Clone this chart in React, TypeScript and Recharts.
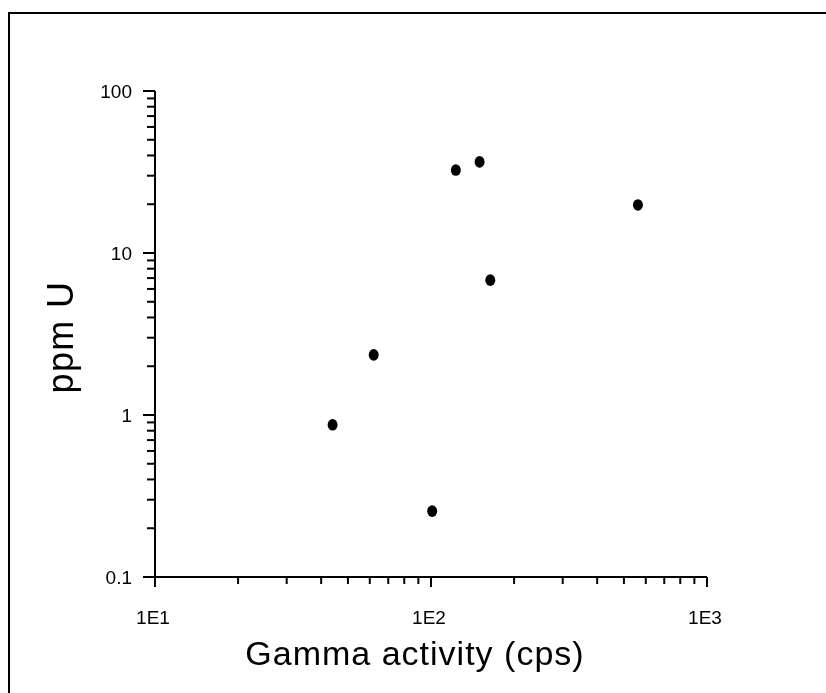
import React from "react";
import { ScatterChart, Scatter, XAxis, YAxis } from "recharts";

const gammaCps = [44, 62, 101, 123, 150, 164, 562];
const ppmU = [0.87, 2.35, 0.255, 32.5, 36.5, 6.8, 19.8];

const xTicks = [10, 20, 30, 40, 50, 60, 70, 80, 90, 100, 200, 300, 400, 500, 600, 700, 800, 900, 1000];
const yTicks = [0.1, 0.2, 0.3, 0.4, 0.5, 0.6, 0.7, 0.8, 0.9, 1, 2, 3, 4, 5, 6, 7, 8, 9, 10, 20, 30, 40, 50, 60, 70, 80, 90, 100];
const xLabels: Record<number, string> = { 10: "1E1", 100: "1E2", 1000: "1E3" };
const yLabels: Record<number, string> = { 0.1: "0.1", 1: "1", 10: "10", 100: "100" };

const data = gammaCps.map((x, i) => ({ x, y: ppmU[i] }));

const FONT = '"Liberation Sans", Arial, sans-serif';
const INK = "#000";

const isMajor = (v: number) => Math.abs(Math.log10(v) - Math.round(Math.log10(v))) < 1e-6;

const XTick = (props: any) => {
  const { x, y, payload } = props;
  const v = payload.value;
  const major = isMajor(v);
  return (
    <g>
      <line x1={x} y1={y} x2={x} y2={y + (major ? 10 : 7)} stroke={INK} strokeWidth={2} />
      {major && (
        <text x={x - 2} y={y + 47} textAnchor="middle" fontSize={19} fontFamily={FONT} fill={INK}>
          {xLabels[v]}
        </text>
      )}
    </g>
  );
};

const YTick = (props: any) => {
  const { x, y, payload } = props;
  const v = payload.value;
  const major = isMajor(v);
  return (
    <g>
      <line x1={x - (major ? 12 : 8)} y1={y} x2={x} y2={y} stroke={INK} strokeWidth={2} />
      {major && (
        <text x={x - 23} y={y + 7} textAnchor="end" fontSize={19} fontFamily={FONT} fill={INK}>
          {yLabels[v]}
        </text>
      )}
    </g>
  );
};

const XTitle = (props: any) => {
  const vb = props.viewBox || {};
  const cx = vb.x + vb.width / 2 - 16;
  const by = vb.y + 88;
  return (
    <text x={cx} y={by} textAnchor="middle" fontSize={34} letterSpacing={1} fontFamily={FONT} fill={INK}>
      Gamma activity (cps)
    </text>
  );
};

const YTitle = (props: any) => {
  const vb = props.viewBox || {};
  const bx = vb.x + 65;
  const cy = vb.y + vb.height / 2 + 3;
  return (
    <text
      x={bx}
      y={cy}
      textAnchor="middle"
      fontSize={36}
      letterSpacing={1.4}
      fontFamily={FONT}
      fill={INK}
      transform={`rotate(-90, ${bx}, ${cy})`}
    >
      ppm U
    </text>
  );
};

const Dot = (props: any) => {
  const { cx, cy } = props;
  return <ellipse cx={cx} cy={cy} rx={5} ry={5.8} fill={INK} />;
};

export default function App() {
  return (
    <div style={{ position: "relative", width: 810, height: 677 }}>
      <div
        style={{
          position: "fixed",
          left: 8,
          top: 12,
          width: 818,
          height: 681,
          borderTop: "2px solid #000",
          borderLeft: "2px solid #000",
          boxSizing: "border-box",
          pointerEvents: "none",
        }}
      />
      <ScatterChart width={810} height={677} margin={{ top: 83, right: 111, left: 0, bottom: 8 }}>
        <XAxis
          dataKey="x"
          type="number"
          scale="log"
          domain={[10, 1000]}
          allowDataOverflow
          ticks={xTicks}
          interval={0}
          tick={<XTick />}
          tickLine={false}
          tickSize={0}
          tickMargin={0}
          height={100}
          axisLine={{ stroke: INK, strokeWidth: 2 }}
          label={<XTitle />}
        />
        <XAxis
          xAxisId="top"
          orientation="top"
          type="number"
          scale="log"
          domain={[10, 1000]}
          height={0}
          tick={false}
          tickLine={false}
          axisLine={{ stroke: INK, strokeWidth: 2 }}
        />
        <YAxis
          dataKey="y"
          type="number"
          scale="log"
          domain={[0.1, 100]}
          allowDataOverflow
          ticks={yTicks}
          interval={0}
          tick={<YTick />}
          tickLine={false}
          tickSize={0}
          tickMargin={0}
          width={147}
          axisLine={{ stroke: INK, strokeWidth: 2 }}
          label={<YTitle />}
        />
        <YAxis
          yAxisId="right"
          orientation="right"
          type="number"
          scale="log"
          domain={[0.1, 100]}
          width={0}
          tick={false}
          tickLine={false}
          axisLine={{ stroke: INK, strokeWidth: 2 }}
        />
        <Scatter data={data} fill={INK} shape={<Dot />} isAnimationActive={false} />
      </ScatterChart>
    </div>
  );
}
